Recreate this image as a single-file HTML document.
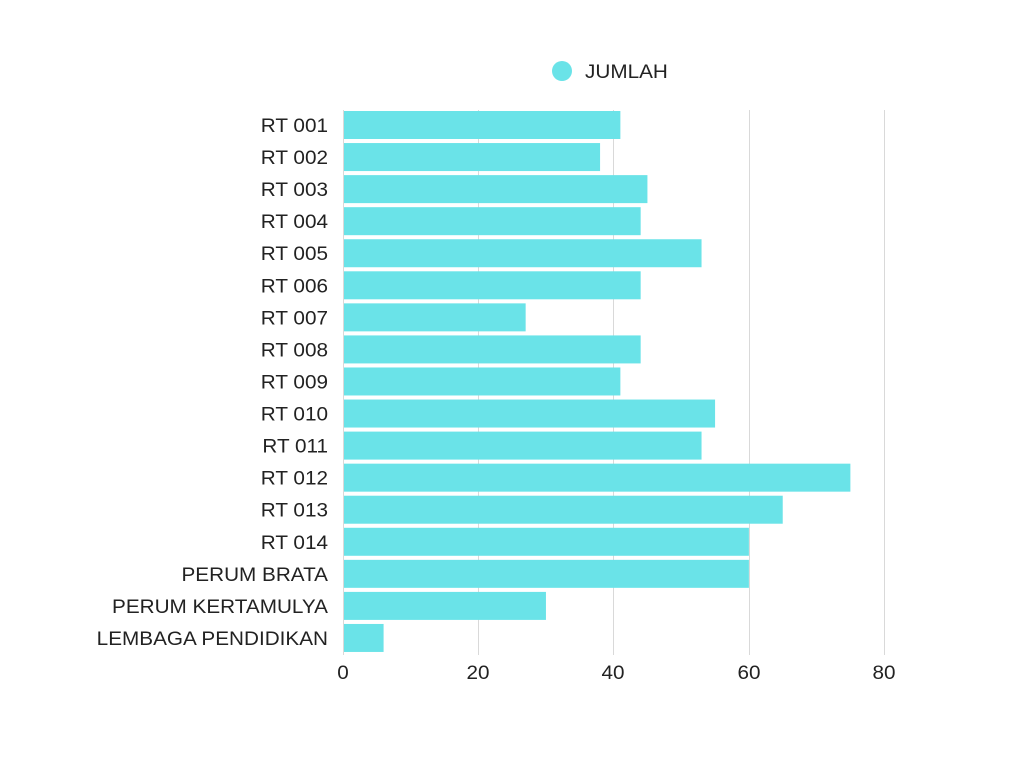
<!DOCTYPE html>
<html><head><meta charset="utf-8"><style>
html,body{margin:0;padding:0;background:#fff;}
</style></head><body>
<svg width="1024" height="768" xmlns="http://www.w3.org/2000/svg" font-family="'Liberation Sans', sans-serif">
<rect width="1024" height="768" fill="#fff"/>
<g stroke="#d9d9d9" stroke-width="1">
<line x1="478.5" y1="110" x2="478.5" y2="655"/>
<line x1="613.5" y1="110" x2="613.5" y2="655"/>
<line x1="749.5" y1="110" x2="749.5" y2="655"/>
<line x1="884.5" y1="110" x2="884.5" y2="655"/>
</g>
<circle cx="562" cy="71" r="10" fill="#6ae3e8"/>
<text class="s" x="585" y="78" font-size="19" fill="#222">JUMLAH</text>
<g id="bars" fill="#6ae3e8"></g>
<g id="labels" font-size="19" fill="#222" text-anchor="end"></g>
<g font-size="19" fill="#222" text-anchor="middle">
<text class="s" x="343" y="679">0</text>
<text class="s" x="478" y="679">20</text>
<text class="s" x="613" y="679">40</text>
<text class="s" x="749" y="679">60</text>
<text class="s" x="884" y="679">80</text>
</g>
<line x1="343.5" y1="110" x2="343.5" y2="655" stroke="#d9d9d9"/>
</svg>
<script>
var names=["RT 001","RT 002","RT 003","RT 004","RT 005","RT 006","RT 007","RT 008","RT 009","RT 010","RT 011","RT 012","RT 013","RT 014","PERUM BRATA","PERUM KERTAMULYA","LEMBAGA PENDIDIKAN"];
var vals=[41,38,45,44,53,44,27,44,41,55,53,75,65,60,60,30,6];
var ns="http://www.w3.org/2000/svg";
var b=document.getElementById("bars"),l=document.getElementById("labels");
for(var i=0;i<names.length;i++){
 var y=111+i*32.06;
 var r=document.createElementNS(ns,"rect");
 r.setAttribute("x",343);r.setAttribute("y",y);r.setAttribute("height",28);
 r.setAttribute("width",vals[i]*6.765);b.appendChild(r);
 var t=document.createElementNS(ns,"text");
 t.setAttribute("class","s");
 t.setAttribute("x",328);t.setAttribute("y",y+21);t.textContent=names[i];l.appendChild(t);
}
var ts=document.querySelectorAll("text.s");
for(var j=0;j<ts.length;j++){
 var w=ts[j].getComputedTextLength();
 ts[j].setAttribute("textLength",(w*1.09).toFixed(1));
 ts[j].setAttribute("lengthAdjust","spacingAndGlyphs");
}
</script>
</body></html>
